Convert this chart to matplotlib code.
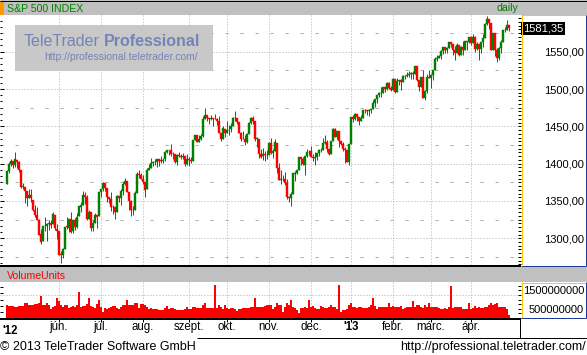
import numpy as np
import pandas as pd
import matplotlib
matplotlib.use("Agg")
import matplotlib.pyplot as plt
import matplotlib.transforms as mtransforms
from matplotlib.ticker import MultipleLocator, FixedLocator
from matplotlib.patches import Rectangle

plt.rcParams['font.family'] = ['Liberation Sans', 'DejaVu Sans']

# ---------------- data ----------------
title = "S&P 500 INDEX"
period = "daily"
volume_title = "VolumeUnits"
first_day = "2012-04-25"
last_day = "2013-04-26"
holidays = ["2012-05-28", "2012-07-04", "2012-09-03", "2012-10-29", "2012-10-30",
            "2012-11-22", "2012-12-25", "2013-01-01", "2013-01-21", "2013-02-18",
            "2013-03-29"]
month_names = {2: "febr.", 3: "márc.", 4: "ápr.", 5: "máj.", 6: "jún.", 7: "júl.",
               8: "aug.", 9: "szept.", 10: "okt.", 11: "nov.", 12: "dec."}

opens = [
    1372.1, 1390.6, 1400.2, 1403.3,
    1397.9, 1405.5, 1402.3, 1391.5, 1368.8, 1369.2, 1363.2, 1354.6, 1358.1, 1351.9,
    1338.4, 1330.8, 1324.8, 1305.1, 1295.7, 1316.1, 1316.0, 1318.7, 1320.8, 1318.9, 1331.3, 1313.1,
    1309.9, 1278.3, 1277.8, 1285.6, 1316.2, 1314.0, 1325.7, 1309.4, 1324.0, 1314.9,
    1329.2, 1342.4, 1344.8, 1358.0, 1355.4, 1325.9, 1334.9, 1314.1, 1320.0, 1331.5, 1330.1,
    1362.3, 1365.8, 1373.7, 1367.1, 1354.7, 1352.9, 1341.4, 1341.4, 1334.8, 1356.5,
    1353.7, 1363.6, 1373.0, 1376.5, 1362.3, 1350.5, 1338.4, 1338.2, 1360.1, 1385.9, 1385.3,
    1379.3, 1375.1, 1365.5, 1391.0, 1394.5, 1401.2, 1402.3, 1402.6, 1405.9, 1404.4,
    1403.9, 1405.6, 1415.8, 1417.9, 1418.1, 1413.1, 1413.5, 1401.9, 1411.1, 1410.4, 1409.3, 1410.1, 1400.1,
    1406.5, 1404.9, 1403.7, 1432.1, 1437.9, 1429.1, 1433.6, 1436.6, 1460.1, 1465.4,
    1461.2, 1459.5, 1461.1, 1460.3, 1459.8, 1456.9, 1441.6, 1433.4, 1447.1,
    1440.9, 1445.0, 1446.1, 1451.1, 1461.4, 1460.9, 1455.9, 1441.5, 1432.8, 1432.8,
    1428.8, 1440.3, 1454.2, 1460.9, 1457.3, 1433.2, 1433.7, 1413.2, 1409.7, 1413.0, 1411.0,
    1412.2, 1427.6, 1414.0, 1417.3, 1428.3, 1394.5, 1377.6, 1379.9, 1380.0, 1374.6,
    1355.4, 1353.4, 1359.9, 1386.8, 1387.8, 1391.0, 1409.2, 1406.3, 1398.8, 1410.0, 1415.95,
    1416.3, 1409.5, 1407.05, 1409.4, 1413.95, 1418.1, 1418.6, 1427.8, 1428.5, 1419.5,
    1413.5, 1430.5, 1446.8, 1435.8, 1443.7, 1430.2, 1426.7, 1419.8, 1418.1, 1402.4,
    1426.2, 1462.4, 1459.4, 1466.5, 1461.9, 1457.2, 1461.0, 1472.1, 1472.05, 1470.7,
    1472.3, 1472.6, 1480.95, 1486.0, 1492.6, 1494.8, 1494.8, 1502.96, 1500.2, 1507.84, 1501.96,
    1498.1, 1513.2, 1495.7, 1511.3, 1512.1, 1509.4, 1517.9, 1517.0, 1519.4, 1520.3,
    1521.4, 1519.8, 1530.9, 1512.0, 1502.4, 1515.6, 1487.9, 1496.9, 1516.0,
    1514.7, 1518.2, 1525.2, 1539.8, 1541.5, 1544.3, 1551.2, 1556.2, 1552.5, 1554.5,
    1563.2, 1560.7, 1552.1, 1548.3, 1558.7, 1545.9, 1556.9, 1551.7, 1563.8, 1562.9,
    1569.2, 1562.2, 1570.3, 1553.7, 1560.0, 1553.3, 1563.1, 1568.6, 1587.7, 1593.3,
    1588.8, 1552.4, 1574.6, 1552.0, 1541.6, 1555.3, 1562.5, 1578.8, 1578.8, 1585.2,
]
highs = [
    1391.4, 1402.1, 1406.6, 1403.3,
    1415.3, 1405.5, 1403.1, 1391.5, 1373.9, 1369.2, 1363.7, 1365.9, 1365.7, 1351.9,
    1344.9, 1341.8, 1326.4, 1312.2, 1316.4, 1328.5, 1320.7, 1324.1, 1324.2, 1334.9, 1331.3, 1319.7,
    1309.9, 1282.6, 1287.6, 1315.2, 1329.1, 1325.8, 1335.5, 1324.3, 1327.3, 1333.7,
    1343.3, 1348.2, 1363.5, 1361.6, 1358.3, 1337.8, 1334.9, 1324.2, 1334.4, 1331.5, 1362.2,
    1366.4, 1374.8, 1373.8, 1367.1, 1354.9, 1361.5, 1345.0, 1341.4, 1357.7, 1357.3,
    1365.4, 1375.3, 1380.4, 1376.5, 1362.3, 1351.5, 1343.9, 1363.1, 1389.2, 1391.7, 1387.2,
    1385.0, 1375.1, 1394.2, 1399.6, 1407.1, 1404.1, 1405.9, 1405.9, 1405.9, 1410.0,
    1407.7, 1417.4, 1418.7, 1418.4, 1426.7, 1416.1, 1413.5, 1413.5, 1416.2, 1413.6, 1413.9, 1410.1, 1413.1,
    1409.3, 1408.8, 1432.2, 1438.0, 1438.7, 1437.8, 1439.2, 1463.8, 1474.5, 1465.6,
    1461.5, 1465.2, 1461.2, 1467.1, 1460.7, 1463.2, 1441.6, 1450.2, 1447.1,
    1457.1, 1451.5, 1454.3, 1463.1, 1471.0, 1460.9, 1455.9, 1442.5, 1443.9, 1438.4,
    1441.3, 1455.5, 1462.2, 1464.0, 1457.3, 1435.5, 1433.7, 1420.0, 1421.1, 1417.1, 1418.8,
    1428.4, 1434.3, 1419.9, 1433.4, 1428.3, 1401.2, 1391.4, 1384.9, 1388.8, 1380.1,
    1357.0, 1362.0, 1386.9, 1389.8, 1391.3, 1409.2, 1409.2, 1409.0, 1410.0, 1419.7, 1418.9,
    1423.7, 1413.1, 1415.6, 1414.0, 1420.3, 1421.6, 1434.3, 1438.6, 1431.4, 1419.5,
    1430.7, 1448.0, 1447.8, 1443.7, 1443.7, 1430.2, 1429.4, 1422.7, 1418.1, 1426.7,
    1462.5, 1465.5, 1467.9, 1466.5, 1461.9, 1464.7, 1472.3, 1472.8, 1472.05, 1473.3,
    1473.0, 1485.2, 1486.0, 1492.6, 1496.1, 1502.3, 1503.3, 1503.2, 1509.3, 1509.9, 1504.2,
    1514.4, 1513.2, 1515.0, 1512.5, 1512.9, 1518.3, 1518.3, 1522.3, 1524.7, 1523.1,
    1524.2, 1531.0, 1530.9, 1512.0, 1515.6, 1525.8, 1499.0, 1520.1, 1525.3,
    1520.0, 1525.3, 1543.5, 1545.3, 1545.8, 1552.5, 1556.3, 1556.8, 1556.4, 1563.3,
    1563.6, 1560.7, 1557.3, 1561.6, 1558.7, 1557.7, 1564.9, 1563.9, 1564.1, 1570.3,
    1570.6, 1573.7, 1571.5, 1562.6, 1560.0, 1563.1, 1573.9, 1589.1, 1597.35, 1593.3,
    1588.8, 1575.4, 1574.6, 1554.4, 1555.9, 1565.6, 1579.6, 1583.0, 1592.6, 1585.8,
]
lows = [
    1372.1, 1387.3, 1397.3, 1394.0,
    1395.7, 1393.9, 1388.7, 1367.9, 1365.4, 1347.8, 1343.1, 1354.6, 1348.9, 1336.6,
    1328.5, 1324.8, 1304.8, 1291.9, 1295.7, 1310.0, 1296.5, 1310.5, 1314.2, 1318.9, 1310.8, 1298.9,
    1277.3, 1266.7, 1274.2, 1285.6, 1312.7, 1307.8, 1307.7, 1306.6, 1310.5, 1314.1,
    1329.2, 1335.0, 1344.8, 1346.5, 1324.4, 1325.9, 1309.3, 1310.3, 1320.0, 1313.3, 1330.1,
    1355.7, 1363.5, 1363.0, 1348.0, 1346.7, 1336.3, 1333.2, 1325.4, 1334.8, 1348.5,
    1345.1, 1358.6, 1371.2, 1362.2, 1337.6, 1329.2, 1331.5, 1338.2, 1360.1, 1381.4, 1379.2,
    1373.1, 1354.7, 1365.5, 1391.0, 1394.5, 1396.6, 1398.8, 1395.6, 1397.3, 1400.6,
    1401.5, 1404.2, 1414.7, 1412.1, 1410.9, 1406.8, 1400.5, 1398.0, 1409.1, 1405.6, 1406.8, 1397.0, 1398.0,
    1396.6, 1401.3, 1403.7, 1431.5, 1429.0, 1429.1, 1432.0, 1435.3, 1460.1, 1457.6,
    1453.0, 1457.9, 1449.9, 1459.5, 1452.1, 1441.5, 1430.5, 1433.4, 1435.6,
    1440.9, 1439.0, 1442.0, 1451.1, 1456.9, 1453.1, 1441.2, 1430.6, 1432.8, 1425.5,
    1427.2, 1440.3, 1453.3, 1452.6, 1429.9, 1422.1, 1407.6, 1407.1, 1405.1, 1403.3, 1406.0,
    1412.2, 1412.9, 1408.1, 1417.3, 1388.1, 1377.5, 1373.0, 1377.2, 1370.8, 1352.5,
    1348.1, 1343.4, 1359.9, 1377.0, 1386.4, 1391.0, 1398.0, 1397.7, 1385.4, 1409.0, 1411.6,
    1408.5, 1403.6, 1398.2, 1405.0, 1410.9, 1415.6, 1418.6, 1426.8, 1416.0, 1411.9,
    1413.5, 1430.5, 1435.8, 1432.8, 1422.6, 1424.7, 1416.4, 1401.1, 1401.6, 1398.1,
    1426.2, 1455.5, 1459.0, 1456.6, 1451.6, 1457.2, 1461.0, 1467.6, 1465.7, 1463.7,
    1467.6, 1472.6, 1475.8, 1481.2, 1489.9, 1489.5, 1494.8, 1496.3, 1498.1, 1500.1, 1496.8,
    1498.1, 1495.0, 1495.7, 1505.0, 1498.5, 1509.4, 1513.6, 1515.6, 1515.6, 1514.0,
    1514.1, 1519.8, 1511.4, 1497.3, 1502.4, 1487.8, 1485.0, 1494.9, 1514.5,
    1501.5, 1512.3, 1525.2, 1538.1, 1541.5, 1539.9, 1547.4, 1548.2, 1548.3, 1554.5,
    1555.7, 1545.1, 1538.6, 1548.3, 1543.6, 1545.9, 1546.2, 1551.7, 1551.9, 1561.1,
    1558.5, 1562.2, 1549.1, 1552.5, 1539.5, 1548.6, 1556.0, 1568.6, 1586.2, 1580.0,
    1552.3, 1552.4, 1543.7, 1536.0, 1539.4, 1548.2, 1562.5, 1575.8, 1578.8, 1578.0,
]
closes = [
    1390.69, 1399.98, 1403.36, 1397.91,
    1405.82, 1402.31, 1391.57, 1369.10, 1369.58, 1363.72, 1354.58, 1357.99, 1353.39, 1338.35,
    1330.66, 1324.80, 1304.86, 1295.22, 1315.99, 1316.63, 1318.86, 1320.68, 1317.82, 1332.42, 1313.32, 1310.33,
    1278.04, 1278.18, 1285.50, 1315.13, 1314.99, 1325.66, 1308.93, 1324.18, 1314.88, 1329.10,
    1342.84, 1344.78, 1357.98, 1355.69, 1325.51, 1335.02, 1313.72, 1319.99, 1331.85, 1329.04, 1362.16,
    1365.51, 1374.02, 1367.58, 1354.68, 1352.46, 1341.47, 1341.45, 1334.76, 1356.78, 1353.64,
    1363.67, 1372.78, 1376.51, 1362.66, 1350.52, 1338.31, 1337.89, 1360.02, 1385.97, 1385.30, 1379.32,
    1375.32, 1365.00, 1390.99, 1394.23, 1401.35, 1402.22, 1402.80, 1405.87, 1404.11, 1403.93,
    1405.53, 1415.51, 1418.16, 1418.13, 1413.17, 1413.49, 1402.08, 1411.13, 1410.44, 1409.30, 1410.49, 1399.48, 1406.58,
    1404.94, 1403.44, 1432.12, 1437.92, 1429.08, 1433.56, 1436.56, 1459.99, 1465.77, 1461.19,
    1459.32, 1461.05, 1460.26, 1460.15, 1456.89, 1441.59, 1433.32, 1447.15, 1440.67,
    1444.49, 1445.75, 1450.99, 1461.40, 1460.93, 1455.88, 1441.48, 1432.56, 1432.84, 1428.59,
    1440.13, 1454.92, 1460.91, 1457.34, 1433.19, 1433.82, 1413.11, 1408.75, 1412.97, 1411.94, 1412.16,
    1427.59, 1414.20, 1417.26, 1428.39, 1394.53, 1377.51, 1379.85, 1380.03, 1374.53, 1355.49,
    1353.33, 1359.88, 1386.89, 1387.81, 1391.03, 1409.15, 1406.29, 1398.94, 1409.93, 1415.95, 1416.18,
    1409.46, 1407.05, 1409.28, 1413.94, 1418.07, 1418.55, 1427.84, 1428.48, 1419.45, 1413.58,
    1430.36, 1446.79, 1435.81, 1443.69, 1430.15, 1426.66, 1419.83, 1418.10, 1402.43, 1426.19,
    1462.42, 1459.37, 1466.47, 1461.89, 1457.15, 1461.02, 1472.12, 1472.05, 1470.68, 1472.34,
    1472.63, 1480.94, 1485.98, 1492.56, 1494.81, 1494.82, 1502.96, 1500.18, 1507.84, 1501.96, 1498.11,
    1513.17, 1495.71, 1511.29, 1512.12, 1509.39, 1517.93, 1517.01, 1519.43, 1520.33, 1521.38,
    1519.79, 1530.94, 1511.95, 1502.42, 1515.60, 1487.85, 1496.94, 1515.99, 1514.68,
    1518.20, 1525.20, 1539.79, 1541.46, 1544.26, 1551.18, 1556.22, 1552.48, 1554.52, 1563.23,
    1560.70, 1552.10, 1548.34, 1558.71, 1545.80, 1556.89, 1551.69, 1563.77, 1562.85, 1569.19,
    1562.17, 1570.25, 1553.69, 1559.98, 1553.28, 1563.07, 1568.61, 1587.73, 1593.37, 1588.85,
    1552.36, 1574.57, 1552.01, 1541.61, 1555.25, 1562.50, 1578.78, 1578.79, 1585.16, 1581.35,
]
volume_millions = [
    720, 650, 650, 650, 610, 610, 650, 650, 650, 780,
    830, 720, 690, 720, 760, 760, 780, 1170, 720, 720,
    800, 690, 500, 610, 650, 1090, 910, 720, 610, 720,
    720, 540, 570, 650, 610, 720, 1390, 610, 650, 650,
    760, 1090, 650, 610, 540, 760, 980, 610, 310, 540,
    500, 540, 570, 650, 650, 540, 500, 610, 690, 720,
    980, 690, 720, 720, 830, 830, 540, 760, 760, 720,
    610, 500, 540, 500, 500, 500, 390, 430, 430, 540,
    650, 500,
    540, 540, 460, 430, 430, 430, 390, 460, 610, 500,
    500, 610, 610, 540, 540, 540, 690, 830, 540, 540,
    540, 540, 1800, 540, 690, 610, 500, 720, 540, 500,
    540, 540, 500, 350, 500, 500, 540, 540, 540, 540,
    610, 610, 1060, 570, 610, 610, 610, 650, 720, 690,
    690, 460, 610, 800, 690, 690, 280, 610, 800, 690,
    980, 610, 540, 390, 240, 540, 540, 610, 540, 980,
    570, 650, 540, 500, 500, 650, 610, 540, 540, 610,
    690, 610, 570, 500, 1830,
    310, 390, 430, 460, 690, 800, 610, 570, 540, 570,
    610, 540, 540, 540, 570, 690, 1060, 650, 500, 610,
    610, 610, 570, 610, 830, 610, 650, 570, 570, 570,
    650, 500, 540, 570, 570, 610, 940, 610, 690, 720,
    610, 540, 690, 570, 830, 570, 570, 570, 570, 540,
    500, 460, 540, 500, 610, 1760, 540, 610, 570, 570,
    570, 460, 460, 500, 800, 460, 540, 650, 540, 570,
    540, 540, 570, 610, 720, 830, 690, 760, 830, 570,
    610, 570, 570, 500, 130,
]
price_ticks = [1300, 1350, 1400, 1450, 1500, 1550]
volume_ticks = [500000000, 1500000000]
volume_grid = [1250000000]

# ---------------- prep ----------------
dates = pd.bdate_range(first_day, last_day)
dates = dates[~dates.isin(pd.to_datetime(holidays))]
o = np.array(opens); h = np.array(highs); l = np.array(lows); c = np.array(closes)
vol = np.array(volume_millions) * 1e6
n = len(dates)
xs = np.arange(n)
month_idx = [i for i in range(1, n) if dates[i].month != dates[i - 1].month]
month_idx = month_idx[1:]   # first partial month is marked only by the year label
month_lab = [("'" + dates[i].strftime('%y')) if dates[i].month == 1 else month_names[dates[i].month]
             for i in month_idx]

GREEN = '#008000'
RED = '#ff0000'
GRID = '#b0b0b0'
YELLOW = '#ffc800'
BLUE = '#1c3a9c'
HEAD = '#c0c0c0'
PT = 0.72  # points per pixel at 100 dpi

W, H = 587, 355
fig = plt.figure(figsize=(W / 100, H / 100), dpi=100, facecolor='white')


def box(x0, y0, x1, y1):
    return [x0 / W, 1 - y1 / H, (x1 - x0) / W, (y1 - y0) / H]


XMIN, XMAX = -3.5, 257.0

# ---------------- price panel ----------------
ax = fig.add_axes(box(0, 15, 521, 265))
ax.set_xlim(XMIN, XMAX)
ax.set_ylim(1264.2, 1599.2)
for s in ax.spines.values():
    s.set_visible(False)
ax.set_xticks([])
ax.yaxis.set_major_locator(MultipleLocator(50))
ax.yaxis.set_minor_locator(MultipleLocator(50 / 6))
ax.tick_params(axis='y', which='both', direction='in', left=True, right=False,
               labelleft=False, width=PT, color='black')
ax.tick_params(axis='y', which='major', length=4 * PT)
ax.tick_params(axis='y', which='minor', length=2.5 * PT)

for p in price_ticks:
    ax.axhline(p, color=GRID, lw=PT, ls=(0, (1, 2)), zorder=1)
for p in [price_ticks[0] - 25] + [t + 25 for t in price_ticks]:
    ax.axhline(p, color=GRID, lw=PT, ls=(0, (3.3, 11.7)), zorder=1)
for m in month_idx:
    ax.axvline(m, color=GRID, lw=PT, ls=(0, (1, 2)), zorder=1)

up = c >= o
cols = np.where(up, GREEN, RED)
ax.vlines(xs, l, h, colors=cols, lw=PT, zorder=3)
ax.bar(xs, np.abs(c - o), bottom=np.minimum(o, c), width=0.8, color=cols,
       edgecolor=cols, linewidth=0.3, zorder=4)

axr = ax.twinx()
axr.set_ylim(ax.get_ylim())
for s in axr.spines.values():
    s.set_visible(False)
axr.yaxis.set_major_locator(FixedLocator(price_ticks))
axr.set_yticklabels([f"{p:.2f}".replace('.', ',') for p in price_ticks])
axr.yaxis.set_minor_locator(MultipleLocator(5))
axr.tick_params(axis='y', which='both', direction='in', right=True, left=False,
                labelright=True, labelleft=False, width=PT, length=3 * PT,
                pad=63 * PT, labelsize=8)
for t in axr.get_yticklabels():
    t.set_horizontalalignment('right')

trans = mtransforms.blended_transform_factory(axr.transAxes, axr.transData)
axr.text(1 + 2 / 521, c[-1], f"{c[-1]:.2f}".replace('.', ','), transform=trans,
         ha='left', va='center', color='white', fontsize=8, clip_on=False,
         bbox=dict(facecolor='black', edgecolor='none', pad=1.2), zorder=20)

# ---------------- volume panel ----------------
axv = fig.add_axes(box(0, 282, 521, 319))
axv.set_xlim(XMIN, XMAX)
axv.set_ylim(-0.083e9, 1.972e9)
for s in axv.spines.values():
    s.set_visible(False)
axv.bar(xs, vol, width=0.55, color=RED, zorder=3)
for m in month_idx:
    axv.axvline(m, color=GRID, lw=PT, ls=(0, (1, 2)), zorder=1)
for g in volume_grid:
    axv.axhline(g, color=GRID, lw=PT, ls=(0, (1, 2)), zorder=1)
axv.yaxis.set_major_locator(MultipleLocator(1e9 / 3))
axv.tick_params(axis='y', which='both', direction='in', left=True, right=False,
                labelleft=False, width=PT, length=3 * PT)
axv.set_xticks(month_idx)
axv.set_xticklabels(month_lab)
axv.tick_params(axis='x', direction='out', length=3 * PT, width=PT, pad=8 * PT,
                labelsize=8.3, colors='black')
for t in axv.get_xticklabels():
    t.set_verticalalignment('baseline')
    if t.get_text().startswith("'"):
        t.set_fontweight('bold')
axv.text(-2.5, -0.4, "'" + dates[0].strftime('%y'), transform=axv.get_xaxis_transform(),
         ha='left', va='baseline', fontsize=8.3, fontweight='bold', clip_on=False)

axvr = axv.twinx()
axvr.set_ylim(axv.get_ylim())
for s in axvr.spines.values():
    s.set_visible(False)
axvr.yaxis.set_major_locator(FixedLocator(volume_ticks))
axvr.set_yticklabels([str(v) for v in volume_ticks])
axvr.yaxis.set_minor_locator(MultipleLocator(0.25e9))
axvr.tick_params(axis='y', which='both', direction='in', right=True, left=False,
                 labelright=True, labelleft=False, width=PT, length=3 * PT,
                 pad=63 * PT, labelsize=8)
for t in axvr.get_yticklabels():
    t.set_horizontalalignment('right')

# ---------------- frame overlay ----------------
ov = fig.add_axes([0, 0, 1, 1], zorder=10)
ov.set_xlim(0, W)
ov.set_ylim(H, 0)
ov.axis('off')
ov.patch.set_visible(False)


def hline(y, x0, x1, color, lw=1):
    ov.plot([x0, x1], [y, y], color=color, lw=lw * PT, solid_capstyle='butt')


def vline(x, y0, y1, color, lw=1):
    ov.plot([x, x], [y0, y1], color=color, lw=lw * PT, solid_capstyle='butt')


ov.add_patch(Rectangle((0, 0), W, 14.5, facecolor=HEAD, edgecolor='none'))
hline(0.5, 0, W, 'black')
ov.add_patch(Rectangle((0, 1), 4, 13.5, facecolor='#ff9900', edgecolor='none'))
ov.text(7, 11.5, title, color=GREEN, fontsize=7.6, ha='left', va='baseline')
ov.text(518, 11.0, period, color=GREEN, fontsize=7.6, ha='right', va='baseline')

# price axis box
vline(521.5, 14.5, 265, YELLOW)
hline(14.5, 521, 586, YELLOW)
vline(585.5, 14.5, 266, BLUE)
hline(265.5, 521, 586, BLUE)
hline(266, 0, 521, 'black', 2)

# volume header
ov.add_patch(Rectangle((0, 267), W, 15, facecolor=HEAD, edgecolor='none'))
ov.text(7, 279, volume_title, color=RED, fontsize=7.6, ha='left', va='baseline')
vline(521.5, 282, 318, YELLOW)
hline(282.5, 521, 586, YELLOW)
vline(585.5, 282, 318, BLUE)
hline(317.5, 521, 586, BLUE)
hline(319, 0, 521, 'black', 2)

# x-axis row box
vline(519.5, 319, 338, 'black')
vline(586.5, 266, 338, 'black')
hline(337.5, 197, W, 'black')

# watermark
ov.add_patch(Rectangle((15, 25), 198, 46, facecolor='#c8c8c8', edgecolor='none'))
WM = '#7384b8'
ov.text(100, 45.5, "TeleTrader", color=WM, fontsize=11.5, ha='right', va='baseline')
ov.text(104, 45.5, "Professional", color=WM, fontsize=11.5, fontweight='bold',
        ha='left', va='baseline')
ov.text(198, 60, "http://professional.teletrader.com/", color=WM, fontsize=7.5,
        ha='right', va='baseline')

# footer
ov.text(0, 350, "© 2013 TeleTrader Software GmbH", color='black', fontsize=9,
        ha='left', va='baseline')
ov.text(586, 350, "http://professional.teletrader.com/", color='black', fontsize=9,
        ha='right', va='baseline')

fig.savefig("out.png", dpi=100, facecolor='white')
